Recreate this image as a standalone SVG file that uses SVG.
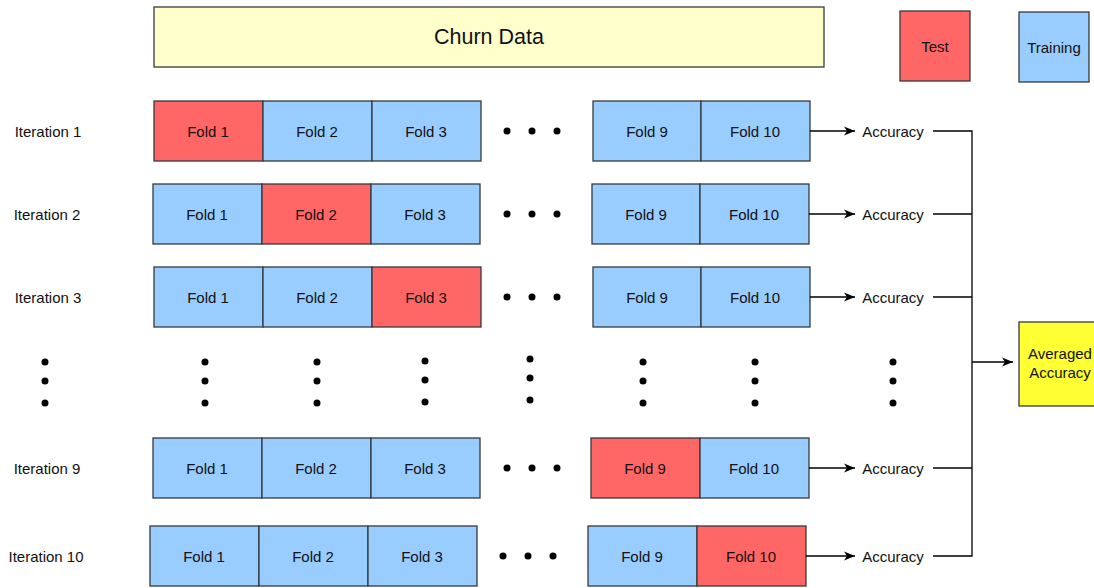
<svg xmlns="http://www.w3.org/2000/svg" width="1094" height="588" viewBox="0 0 1094 588">
<defs>
<style>
.t{fill:#ff6666;stroke:#36393d;stroke-width:1.3}
.b{fill:#99ccff;stroke:#36393d;stroke-width:1.3}
text{font-family:"Liberation Sans",Arial,sans-serif;font-size:15px;fill:#111;text-anchor:middle;dominant-baseline:central}
.c{fill:none;stroke:#000;stroke-width:1.3}
.d{fill:#000}
</style>
<marker id="ah" markerWidth="12" markerHeight="12" refX="11" refY="6" orient="auto" markerUnits="userSpaceOnUse">
<path d="M0,1.5 L11,6 L0,10.5 L3,6 Z" fill="#000"/>
</marker>
</defs>
<rect width="1094" height="588" fill="#fff"/>
<g id="churn"><rect x="154" y="7" width="670" height="60" fill="#ffffcc" stroke="#36393d" stroke-width="1.3"/><text x="489" y="37" style="font-size:21.5px">Churn Data</text></g>
<g id="legend-test"><rect class="t" x="900" y="11" width="70" height="70"/><text x="935" y="46">Test</text></g>
<g id="legend-training"><rect class="b" x="1019" y="12" width="70" height="70"/><text x="1054" y="47">Training</text></g>

<g id="iter1">
<text x="48" y="131">Iteration 1</text>
<rect class="t" x="154" y="101" width="109" height="60"/><text x="208" y="131">Fold 1</text>
<rect class="b" x="263" y="101" width="109" height="60"/><text x="317" y="131">Fold 2</text>
<rect class="b" x="372" y="101" width="109" height="60"/><text x="426" y="131">Fold 3</text>
<circle class="d" cx="507" cy="131" r="3.5"/><circle class="d" cx="532" cy="131" r="3.5"/><circle class="d" cx="557" cy="131" r="3.5"/>
<rect class="b" x="593" y="101" width="108" height="60"/><text x="647" y="131">Fold 9</text>
<rect class="b" x="701" y="101" width="109" height="60"/><text x="755" y="131">Fold 10</text>
<text x="893" y="131">Accuracy</text>
</g>
<g id="iter2">
<text x="47" y="214">Iteration 2</text>
<rect class="b" x="153" y="184" width="109" height="60"/><text x="207" y="214">Fold 1</text>
<rect class="t" x="262" y="184" width="109" height="60"/><text x="316" y="214">Fold 2</text>
<rect class="b" x="371" y="184" width="109" height="60"/><text x="425" y="214">Fold 3</text>
<circle class="d" cx="507" cy="214" r="3.5"/><circle class="d" cx="532" cy="214" r="3.5"/><circle class="d" cx="557" cy="214" r="3.5"/>
<rect class="b" x="592" y="184" width="108" height="60"/><text x="646" y="214">Fold 9</text>
<rect class="b" x="700" y="184" width="109" height="60"/><text x="754" y="214">Fold 10</text>
<text x="893" y="214">Accuracy</text>
</g>
<g id="iter3">
<text x="48" y="297">Iteration 3</text>
<rect class="b" x="154" y="267" width="109" height="60"/><text x="208" y="297">Fold 1</text>
<rect class="b" x="263" y="267" width="109" height="60"/><text x="317" y="297">Fold 2</text>
<rect class="t" x="372" y="267" width="109" height="60"/><text x="426" y="297">Fold 3</text>
<circle class="d" cx="507" cy="297" r="3.5"/><circle class="d" cx="532" cy="297" r="3.5"/><circle class="d" cx="557" cy="297" r="3.5"/>
<rect class="b" x="593" y="267" width="108" height="60"/><text x="647" y="297">Fold 9</text>
<rect class="b" x="701" y="267" width="109" height="60"/><text x="755" y="297">Fold 10</text>
<text x="893" y="297">Accuracy</text>
</g>
<g id="iter9">
<text x="47" y="468">Iteration 9</text>
<rect class="b" x="153" y="438" width="109" height="60"/><text x="207" y="468">Fold 1</text>
<rect class="b" x="262" y="438" width="109" height="60"/><text x="316" y="468">Fold 2</text>
<rect class="b" x="371" y="438" width="109" height="60"/><text x="425" y="468">Fold 3</text>
<circle class="d" cx="507" cy="468" r="3.5"/><circle class="d" cx="532" cy="468" r="3.5"/><circle class="d" cx="557" cy="468" r="3.5"/>
<rect class="t" x="591" y="438" width="109" height="60"/><text x="645" y="468">Fold 9</text>
<rect class="b" x="700" y="438" width="109" height="60"/><text x="754" y="468">Fold 10</text>
<text x="893" y="468">Accuracy</text>
</g>
<g id="iter10">
<text x="46" y="556">Iteration 10</text>
<rect class="b" x="150" y="526" width="109" height="60"/><text x="204" y="556">Fold 1</text>
<rect class="b" x="259" y="526" width="109" height="60"/><text x="313" y="556">Fold 2</text>
<rect class="b" x="368" y="526" width="109" height="60"/><text x="422" y="556">Fold 3</text>
<circle class="d" cx="503" cy="556" r="3.5"/><circle class="d" cx="528" cy="556" r="3.5"/><circle class="d" cx="553" cy="556" r="3.5"/>
<rect class="b" x="588" y="526" width="109" height="60"/><text x="642" y="556">Fold 9</text>
<rect class="t" x="697" y="526" width="109" height="60"/><text x="751" y="556">Fold 10</text>
<text x="893" y="556">Accuracy</text>
</g>
<g id="vdots">
<circle class="d" cx="45" cy="362" r="3.5"/><circle class="d" cx="45" cy="381" r="3.5"/><circle class="d" cx="45" cy="403" r="3.5"/>
<circle class="d" cx="205" cy="362" r="3.5"/><circle class="d" cx="205" cy="381" r="3.5"/><circle class="d" cx="205" cy="403" r="3.5"/>
<circle class="d" cx="317" cy="362" r="3.5"/><circle class="d" cx="317" cy="381" r="3.5"/><circle class="d" cx="317" cy="403" r="3.5"/>
<circle class="d" cx="425" cy="361" r="3.5"/><circle class="d" cx="425" cy="380" r="3.5"/><circle class="d" cx="425" cy="402" r="3.5"/>
<circle class="d" cx="530" cy="359" r="3.5"/><circle class="d" cx="530" cy="378" r="3.5"/><circle class="d" cx="530" cy="400" r="3.5"/>
<circle class="d" cx="643" cy="362" r="3.5"/><circle class="d" cx="643" cy="381" r="3.5"/><circle class="d" cx="643" cy="403" r="3.5"/>
<circle class="d" cx="755" cy="362" r="3.5"/><circle class="d" cx="755" cy="381" r="3.5"/><circle class="d" cx="755" cy="403" r="3.5"/>
<circle class="d" cx="893" cy="362" r="3.5"/><circle class="d" cx="893" cy="381" r="3.5"/><circle class="d" cx="893" cy="403" r="3.5"/>
</g>
<g id="avg"><rect x="1019" y="322" width="82" height="84" fill="#ffff33" stroke="#36393d" stroke-width="1.3"/><text x="1060" y="353">Averaged</text><text x="1060" y="372">Accuracy</text></g>
<g id="connectors">
<line class="c" x1="810" y1="131" x2="855" y2="131" marker-end="url(#ah)"/>
<line class="c" x1="809" y1="214" x2="855" y2="214" marker-end="url(#ah)"/>
<line class="c" x1="810" y1="297" x2="855" y2="297" marker-end="url(#ah)"/>
<line class="c" x1="809" y1="468" x2="855" y2="468" marker-end="url(#ah)"/>
<line class="c" x1="806" y1="556" x2="855" y2="556" marker-end="url(#ah)"/>
<polyline class="c" points="933,131 972,131 972,556 933,556"/>
<line class="c" x1="933" y1="214" x2="972" y2="214"/>
<line class="c" x1="933" y1="297" x2="972" y2="297"/>
<line class="c" x1="933" y1="468" x2="972" y2="468"/>
<line class="c" x1="972" y1="362" x2="1013" y2="362" marker-end="url(#ah)"/>
</g>
</svg>
